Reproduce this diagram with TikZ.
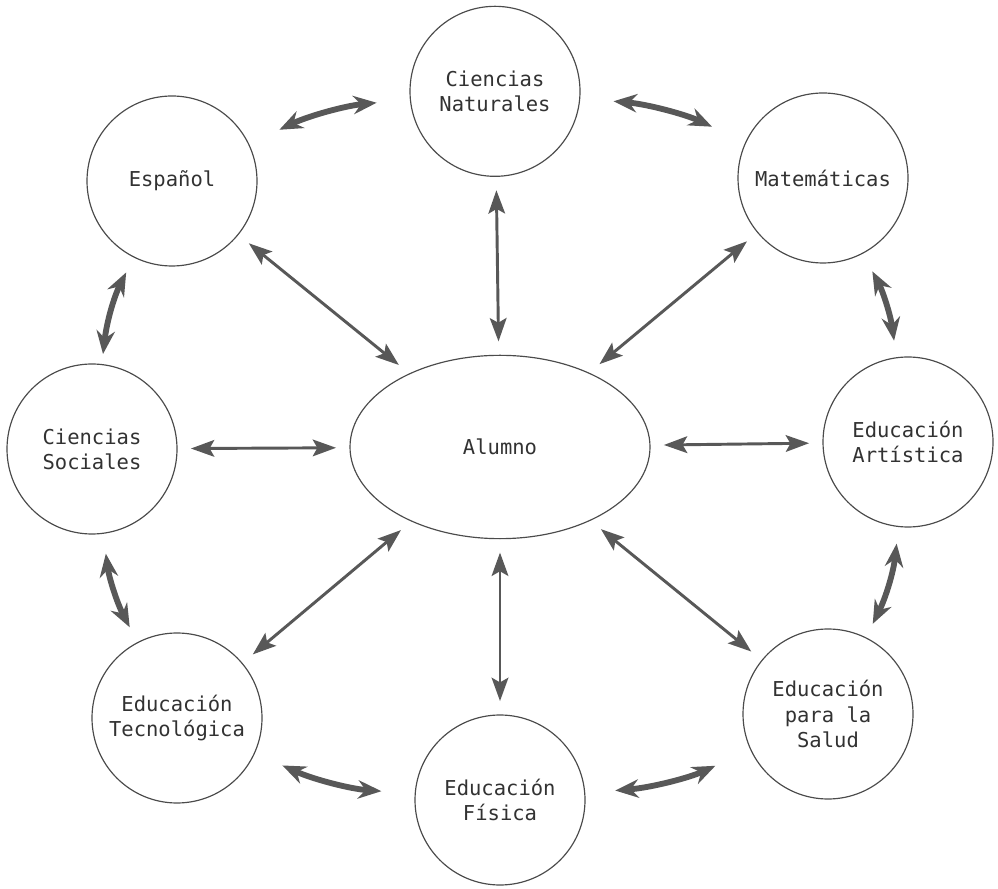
\documentclass[tikz,border=0pt]{standalone}
\usepackage{fontspec}
\setmonofont{DejaVu Sans Mono}
\usetikzlibrary{arrows.meta,shapes.geometric}

\begin{document}
\begin{tikzpicture}
        %%颜色与样式
        \definecolor{line_color}{RGB}{88,88,88}
        \definecolor{ring_color}{RGB}{75,75,75}
        \definecolor{text_color}{RGB}{50,50,50}
        \tikzset{subject/.style = {circle, draw=ring_color, line width=1pt, minimum size=5.1cm, inner sep=0, align=center, text=text_color, font=\ttfamily\fontsize{17.5}{21.5}\selectfont}}
        \tikzset{student/.style = {ellipse, draw=ring_color, line width=1pt, minimum width=9cm, minimum height=5.5cm, inner sep=0, text=text_color, font=\ttfamily\fontsize{17.5}{21.5}\selectfont}}
        \tikzset{link/.style = {draw=line_color, line width=2.5pt, {Stealth[length=.7cm,width=.5cm,inset=.14cm]}-{Stealth[length=.7cm,width=.5cm,inset=.14cm]}, shorten >=.4cm, shorten <=.4cm}}
        \tikzset{ring/.style = {draw=line_color, line width=5pt, {Stealth[length=.7cm,width=.55cm]}-{Stealth[length=.7cm,width=.55cm]}}}

        %%画布大小
        \useasboundingbox (0,0) rectangle (29.94,26.64);

        %%中心与各科目
        \node[student] (alu) at (15,13.23) {Alumno};
        \node[subject] (nat) at (14.85,23.9) {Ciencias\\Naturales};
        \node[subject] (esp) at (5.16,21.21) {Español};
        \node[subject] (mat) at (24.69,21.30) {Matemáticas};
        \node[subject] (soc) at (2.76,13.17) {Ciencias\\Sociales};
        \node[subject] (art) at (27.24,13.38) {Educación\\Artística};
        \node[subject] (tec) at (5.31,5.10) {Educación\\Tecnológica};
        \node[subject] (sal) at (24.84,5.22) {Educación\\para la\\Salud};
        \node[subject] (fis) at (15,2.64) {Educación\\Física};

        %%内圈箭头
        \foreach \subj in {nat,esp,mat,soc,art,tec,sal,fis}
            \draw[link] (\subj) -- (alu);

        %%外圈箭头(顺时针,向外弯)
        \draw[ring, shorten <=1cm, shorten >=1cm] (esp) to[bend left=10] (nat);
        \draw[ring, shorten <=1cm, shorten >=1.1cm] (nat) to[bend left=10] (mat);
        \draw[ring, shorten <=.6cm, shorten >=.5cm] (mat) to[bend left=10] (art);
        \draw[ring, shorten <=.5cm, shorten >=.45cm] (art) to[bend left=10] (sal);
        \draw[ring, shorten <=1.15cm, shorten >=.9cm] (sal) to[bend left=10] (fis);
        \draw[ring, shorten <=1cm, shorten >=.9cm] (fis) to[bend left=10] (tec);
        \draw[ring, shorten <=.5cm, shorten >=.6cm] (tec) to[bend left=10] (soc);
        \draw[ring, shorten <=.3cm, shorten >=.5cm] (soc) to[bend left=10] (esp);
\end{tikzpicture}
\end{document}
